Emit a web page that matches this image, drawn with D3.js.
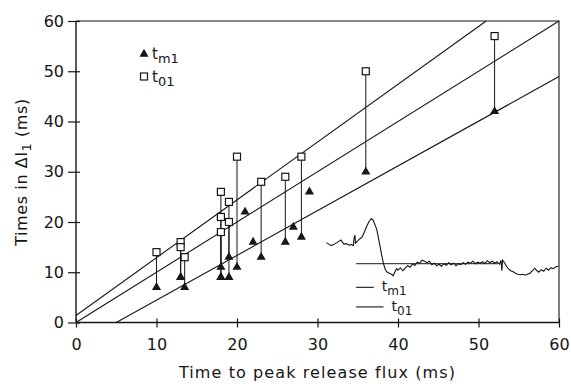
<!DOCTYPE html>
<html>
<head>
<meta charset="utf-8">
<script src="https://cdn.jsdelivr.net/npm/d3@7"></script>
<style>
  html, body { margin: 0; padding: 0; background: #fff; }
  svg { display: block; font-family: "DejaVu Sans", sans-serif; }
</style>
</head>
<body>
<svg id="chart" width="571" height="387"></svg>
<script>
// Time to peak release flux (ms) for each fibre
const release = [10, 13, 13, 13.5, 18, 18, 18, 19, 19, 20, 21, 22, 23, 26, 27, 28, 29, 36, 52];
// Time to peak of the first derivative (t_m1), ms
const tm1 = [7, 9, 9, 7, 11, 9, 9, 13, 9, 11, 22, 16, 13, 16, 19, 17, 26, 30, 42];
// Onset time (t_01), ms; null where not determined
const t01 = [14, 16, 15, 13, 26, 21, 18, 24, 20, 33, null, null, 28, 29, null, 33, null, 50, 57];

// Reference lines: y = intercept + slope * x
const fitIntercepts = [1.4, 0, -4.45];
const fitSlopes = [1.15, 1, 0.89];

const xTicks = [0, 10, 20, 30, 40, 50, 60];
const yTicks = [0, 10, 20, 30, 40, 50, 60];

// Example record shown in the lower-right corner (plotted in axis units)
const traceX = [31.1,31.4,31.7,32.0,32.3,32.6,32.9,33.1,33.3,33.6,33.9,34.2,34.45,34.55,34.65,34.72,34.9,35.2,35.5,35.8,36.1,36.4,36.7,36.9,37.1,37.35,37.6,37.8,38.0,38.2,38.4,38.6,38.9,39.2,39.4,39.6,39.8,40.0,40.3,40.6,40.9,41.2,41.5,41.8,42.1,42.4,42.7,43.0,43.3,43.6,43.9,44.2,44.5,44.8,45.1,45.4,45.7,46.0,46.3,46.6,46.9,47.2,47.5,47.8,48.1,48.4,48.7,49.0,49.3,49.6,49.9,50.2,50.5,50.8,51.1,51.4,51.7,52.0,52.3,52.6,52.8,52.9,53.0,53.2,53.4,53.7,54.0,54.3,54.6,54.9,55.2,55.5,55.8,56.1,56.4,56.7,57.0,57.2,57.5,57.8,58.1,58.4,58.7,59.0,59.3,59.6,59.9];
const traceY = [15.9,15.6,15.3,15.5,15.8,16.1,16.4,16.0,15.6,15.7,15.4,15.5,15.3,16.8,17.4,15.8,16.1,16.6,16.9,17.9,19.1,20.1,20.7,20.4,19.6,18.6,16.6,14.9,13.2,11.7,10.6,10.1,9.8,9.6,9.3,10.0,10.7,10.4,10.9,10.3,10.8,11.3,11.0,11.6,11.4,12.0,11.8,12.4,12.2,11.9,12.2,11.5,11.8,11.3,11.6,11.2,11.7,11.4,11.9,11.5,11.8,11.3,11.7,11.5,11.9,11.6,12.0,11.8,12.2,11.7,12.0,11.8,12.1,11.7,12.3,11.9,12.2,11.8,12.1,11.6,12.4,10.3,12.4,12.0,11.4,10.7,10.3,10.1,9.8,9.6,9.5,9.6,9.4,9.6,9.8,10.3,10.8,10.4,10.0,10.5,10.2,10.8,10.4,10.9,10.7,11.1,11.2];
const baselineX = [34.8, 52.4];
const baselineY = 11.7;
const keyLabels = [{main: "t", sub: "m1"}, {main: "t", sub: "01"}];
const keyY = [7.0, 3.1];
const keyX1 = [37.0, 38.2];

const ink = "#161616";
const svg = d3.select("#chart");
const M = {left: 76, right: 559, top: 21, bottom: 322.5};

const x = d3.scaleLinear().domain([0, 60]).range([M.left, M.right]);
const y = d3.scaleLinear().domain([0, 60]).range([M.bottom, M.top]);

// Frame (top and right edges)
svg.append("path")
  .attr("d", `M${M.left},${M.top}H${M.right}V${M.bottom}`)
  .attr("fill", "none").attr("stroke", ink).attr("stroke-width", 1.1);

// Axes with ticks crossing the axis line
const xAxis = svg.append("g").attr("transform", `translate(0,${M.bottom})`)
  .call(d3.axisBottom(x).tickValues(xTicks).tickSize(5).tickPadding(11));
xAxis.selectAll(".tick line").attr("y1", -4);
const yAxis = svg.append("g").attr("transform", `translate(${M.left},0)`)
  .call(d3.axisLeft(y).tickValues(yTicks).tickSize(8).tickPadding(4));
yAxis.selectAll(".tick line").attr("x1", 4);
[xAxis, yAxis].forEach(a => {
  a.select(".domain").attr("stroke", ink).attr("stroke-width", 1.4);
  a.selectAll(".tick line").attr("stroke", ink).attr("stroke-width", 1.2);
  a.selectAll(".tick text").attr("fill", ink).attr("font-size", 16)
    .attr("font-family", "DejaVu Sans, sans-serif");
});
yAxis.select(".domain").attr("d", `M0,${M.top}V${M.bottom}`);
xAxis.select(".domain").attr("d", `M${M.left},0H${M.right}`);

// Axis titles
svg.append("text")
  .attr("x", (M.left + M.right) / 2).attr("y", 378)
  .attr("text-anchor", "middle").attr("font-size", 16).attr("letter-spacing", 1.1).attr("fill", ink)
  .text("Time to peak release flux (ms)");
const yt = svg.append("text")
  .attr("transform", `translate(27,${172}) rotate(-90)`)
  .attr("text-anchor", "middle").attr("font-size", 16).attr("letter-spacing", 0.6).attr("fill", ink);
yt.append("tspan").text("Times in Δl");
yt.append("tspan").attr("dy", 4).attr("font-size", 13).text("1");
yt.append("tspan").attr("dy", -4).text(" (ms)");

// Reference lines, clipped to the plotting range
fitIntercepts.forEach((b, i) => {
  const m = fitSlopes[i];
  const x0 = Math.max(0, (0 - b) / m);
  const x1 = Math.min(60, (60 - b) / m);
  svg.append("line")
    .attr("x1", x(x0)).attr("y1", y(b + m * x0))
    .attr("x2", x(x1)).attr("y2", y(b + m * x1))
    .attr("stroke", ink).attr("stroke-width", 1.1);
});

// Vertical connectors between t01 and tm1 of the same fibre
release.forEach((r, i) => {
  if (t01[i] == null) return;
  svg.append("line")
    .attr("x1", x(r)).attr("x2", x(r))
    .attr("y1", y(t01[i])).attr("y2", y(tm1[i]))
    .attr("stroke", ink).attr("stroke-width", 1);
});

const tri = d3.symbol().type(d3.symbolTriangle).size(36);
svg.append("g").selectAll("path").data(release).join("path")
  .attr("d", tri)
  .attr("transform", (r, i) => `translate(${x(r)},${y(tm1[i])})`)
  .attr("fill", ink);

const sq = 7;
svg.append("g").selectAll("rect").data(release.filter((r, i) => t01[i] != null)).join("rect")
  .attr("x", r => x(r) - sq / 2)
  .attr("y", (r, k) => y(t01.filter(v => v != null)[k]) - sq / 2)
  .attr("width", sq).attr("height", sq)
  .attr("fill", "#fff").attr("stroke", ink).attr("stroke-width", 1.2);

// Symbol legend
const lg = svg.append("g");
lg.append("path").attr("d", tri).attr("transform", "translate(144,54)").attr("fill", ink);
lg.append("rect").attr("x", 140.5).attr("y", 73).attr("width", sq).attr("height", sq)
  .attr("fill", "#fff").attr("stroke", ink).attr("stroke-width", 1.2);
[[152, 59], [152, 82]].forEach(([lx, ly], i) => {
  const t = lg.append("text").attr("x", lx).attr("y", ly).attr("font-size", 15).attr("fill", ink);
  t.append("tspan").text(keyLabels[i].main);
  t.append("tspan").attr("dy", 4).attr("font-size", 13).text(keyLabels[i].sub);
});

// Example record
const trace = d3.line().x(d => x(d[0])).y(d => y(d[1])).curve(d3.curveLinear);
svg.append("path")
  .attr("d", trace(traceX.map((v, i) => [v, traceY[i]])))
  .attr("fill", "none").attr("stroke", ink).attr("stroke-width", 1.1);
svg.append("line")
  .attr("x1", x(baselineX[0])).attr("x2", x(baselineX[1]))
  .attr("y1", y(baselineY)).attr("y2", y(baselineY))
  .attr("stroke", ink).attr("stroke-width", 1);
keyY.forEach((ky, i) => {
  svg.append("line")
    .attr("x1", x(baselineX[0])).attr("x2", x(keyX1[i]))
    .attr("y1", y(ky)).attr("y2", y(ky))
    .attr("stroke", ink).attr("stroke-width", 1.1);
  const t = svg.append("text")
    .attr("x", x(keyX1[i]) + 8).attr("y", y(ky) + 4)
    .attr("font-size", 14).attr("fill", ink);
  t.append("tspan").text(keyLabels[i].main);
  t.append("tspan").attr("dy", 4).attr("font-size", 12).text(keyLabels[i].sub);
});
</script>
</body>
</html>
